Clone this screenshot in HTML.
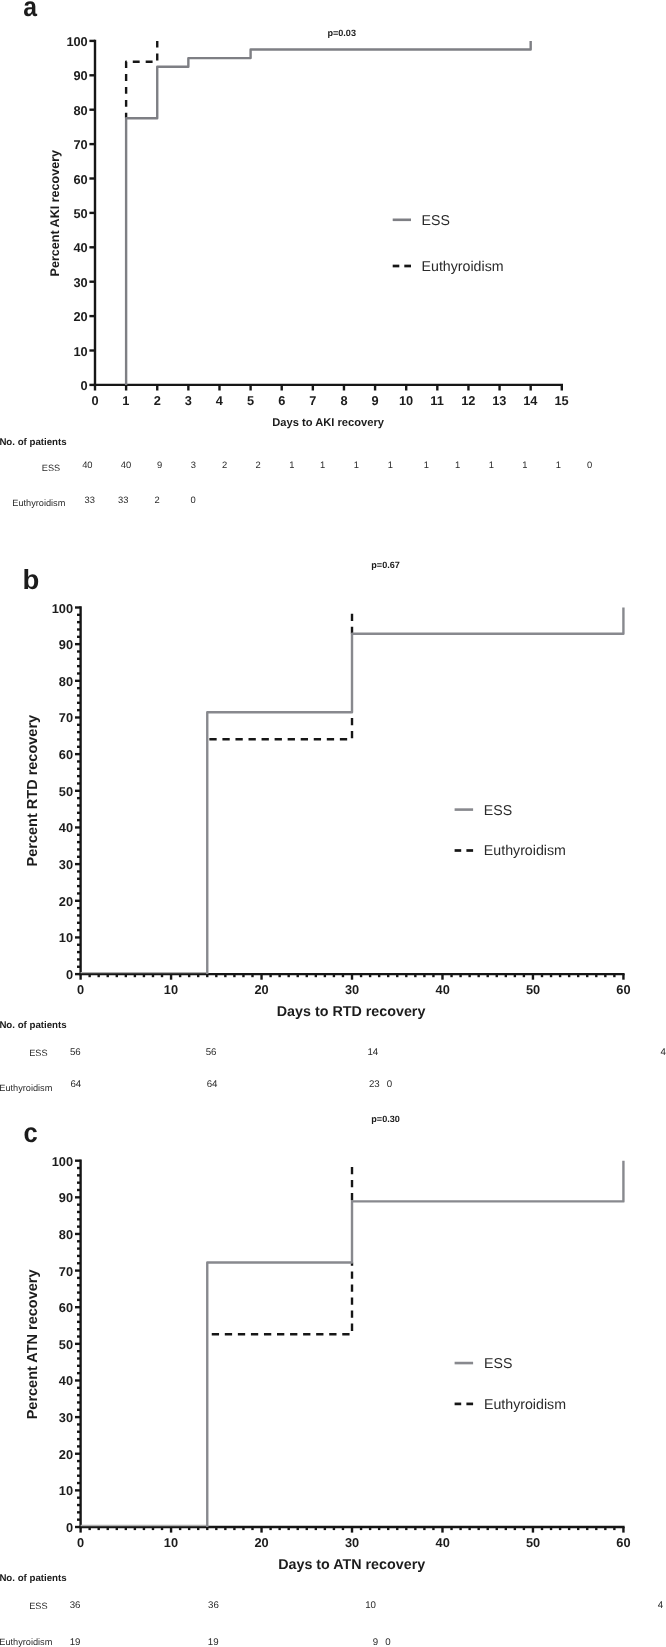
<!DOCTYPE html>
<html><head><meta charset="utf-8"><style>
html,body{margin:0;padding:0;background:#fff;}
body{width:666px;height:1647px;overflow:hidden;}
svg{display:block;font-family:"Liberation Sans",sans-serif;}
text{text-rendering:geometricPrecision;}
</style></head><body>
<svg style="will-change:transform" width="666" height="1647" viewBox="0 0 666 1647">
<rect width="666" height="1647" fill="#fff"/>
<text transform="translate(23.16,15.80) scale(0.9,1)" x="0" y="0" font-size="27.5" font-weight="bold" fill="#1c1c1c">a</text>
<text x="327.41" y="36.20" font-size="9.1" font-weight="bold" fill="#1c1c1c">p=0.03</text>
<line x1="95.00" y1="39.70" x2="95.00" y2="386.10" stroke="#161616" stroke-width="2.4"/>
<line x1="93.80" y1="384.90" x2="563.00" y2="384.90" stroke="#161616" stroke-width="2.4"/>
<line x1="89.40" y1="384.90" x2="95.00" y2="384.90" stroke="#161616" stroke-width="2.4"/>
<text x="80.61" y="389.90" font-size="12.8" font-weight="bold" fill="#1c1c1c">0</text>
<line x1="89.40" y1="350.50" x2="95.00" y2="350.50" stroke="#161616" stroke-width="2.4"/>
<text x="73.50" y="355.50" font-size="12.8" font-weight="bold" fill="#1c1c1c">10</text>
<line x1="89.40" y1="316.10" x2="95.00" y2="316.10" stroke="#161616" stroke-width="2.4"/>
<text x="73.50" y="321.10" font-size="12.8" font-weight="bold" fill="#1c1c1c">20</text>
<line x1="89.40" y1="281.70" x2="95.00" y2="281.70" stroke="#161616" stroke-width="2.4"/>
<text x="73.50" y="286.70" font-size="12.8" font-weight="bold" fill="#1c1c1c">30</text>
<line x1="89.40" y1="247.30" x2="95.00" y2="247.30" stroke="#161616" stroke-width="2.4"/>
<text x="73.50" y="252.30" font-size="12.8" font-weight="bold" fill="#1c1c1c">40</text>
<line x1="89.40" y1="212.90" x2="95.00" y2="212.90" stroke="#161616" stroke-width="2.4"/>
<text x="73.50" y="217.90" font-size="12.8" font-weight="bold" fill="#1c1c1c">50</text>
<line x1="89.40" y1="178.50" x2="95.00" y2="178.50" stroke="#161616" stroke-width="2.4"/>
<text x="73.50" y="183.50" font-size="12.8" font-weight="bold" fill="#1c1c1c">60</text>
<line x1="89.40" y1="144.10" x2="95.00" y2="144.10" stroke="#161616" stroke-width="2.4"/>
<text x="73.50" y="149.10" font-size="12.8" font-weight="bold" fill="#1c1c1c">70</text>
<line x1="89.40" y1="109.70" x2="95.00" y2="109.70" stroke="#161616" stroke-width="2.4"/>
<text x="73.50" y="114.70" font-size="12.8" font-weight="bold" fill="#1c1c1c">80</text>
<line x1="89.40" y1="75.30" x2="95.00" y2="75.30" stroke="#161616" stroke-width="2.4"/>
<text x="73.50" y="80.30" font-size="12.8" font-weight="bold" fill="#1c1c1c">90</text>
<line x1="89.40" y1="40.90" x2="95.00" y2="40.90" stroke="#161616" stroke-width="2.4"/>
<text x="66.40" y="45.90" font-size="12.8" font-weight="bold" fill="#1c1c1c">100</text>
<line x1="95.00" y1="384.90" x2="95.00" y2="390.50" stroke="#161616" stroke-width="2.4"/>
<text x="91.45" y="405.00" font-size="12.8" font-weight="bold" fill="#1c1c1c">0</text>
<line x1="126.12" y1="384.90" x2="126.12" y2="390.50" stroke="#161616" stroke-width="2.4"/>
<text x="122.31" y="405.00" font-size="12.8" font-weight="bold" fill="#1c1c1c">1</text>
<line x1="157.24" y1="384.90" x2="157.24" y2="390.50" stroke="#161616" stroke-width="2.4"/>
<text x="153.72" y="405.00" font-size="12.8" font-weight="bold" fill="#1c1c1c">2</text>
<line x1="188.36" y1="384.90" x2="188.36" y2="390.50" stroke="#161616" stroke-width="2.4"/>
<text x="184.87" y="405.00" font-size="12.8" font-weight="bold" fill="#1c1c1c">3</text>
<line x1="219.48" y1="384.90" x2="219.48" y2="390.50" stroke="#161616" stroke-width="2.4"/>
<text x="215.86" y="405.00" font-size="12.8" font-weight="bold" fill="#1c1c1c">4</text>
<line x1="250.60" y1="384.90" x2="250.60" y2="390.50" stroke="#161616" stroke-width="2.4"/>
<text x="247.02" y="405.00" font-size="12.8" font-weight="bold" fill="#1c1c1c">5</text>
<line x1="281.72" y1="384.90" x2="281.72" y2="390.50" stroke="#161616" stroke-width="2.4"/>
<text x="278.17" y="405.00" font-size="12.8" font-weight="bold" fill="#1c1c1c">6</text>
<line x1="312.84" y1="384.90" x2="312.84" y2="390.50" stroke="#161616" stroke-width="2.4"/>
<text x="309.29" y="405.00" font-size="12.8" font-weight="bold" fill="#1c1c1c">7</text>
<line x1="343.96" y1="384.90" x2="343.96" y2="390.50" stroke="#161616" stroke-width="2.4"/>
<text x="340.41" y="405.00" font-size="12.8" font-weight="bold" fill="#1c1c1c">8</text>
<line x1="375.08" y1="384.90" x2="375.08" y2="390.50" stroke="#161616" stroke-width="2.4"/>
<text x="371.53" y="405.00" font-size="12.8" font-weight="bold" fill="#1c1c1c">9</text>
<line x1="406.20" y1="384.90" x2="406.20" y2="390.50" stroke="#161616" stroke-width="2.4"/>
<text x="398.94" y="405.00" font-size="12.8" font-weight="bold" fill="#1c1c1c">10</text>
<line x1="437.32" y1="384.90" x2="437.32" y2="390.50" stroke="#161616" stroke-width="2.4"/>
<text x="430.31" y="405.00" font-size="12.8" font-weight="bold" fill="#1c1c1c">11</text>
<line x1="468.44" y1="384.90" x2="468.44" y2="390.50" stroke="#161616" stroke-width="2.4"/>
<text x="461.18" y="405.00" font-size="12.8" font-weight="bold" fill="#1c1c1c">12</text>
<line x1="499.56" y1="384.90" x2="499.56" y2="390.50" stroke="#161616" stroke-width="2.4"/>
<text x="492.26" y="405.00" font-size="12.8" font-weight="bold" fill="#1c1c1c">13</text>
<line x1="530.68" y1="384.90" x2="530.68" y2="390.50" stroke="#161616" stroke-width="2.4"/>
<text x="523.19" y="405.00" font-size="12.8" font-weight="bold" fill="#1c1c1c">14</text>
<line x1="561.80" y1="384.90" x2="561.80" y2="390.50" stroke="#161616" stroke-width="2.4"/>
<text x="554.44" y="405.00" font-size="12.8" font-weight="bold" fill="#1c1c1c">15</text>
<path d="M126.12,118.30 L126.12,61.75 L157.24,61.75 L157.24,40.90" fill="none" stroke="#161616" stroke-width="2.4" stroke-linejoin="round" stroke-linecap="butt" stroke-dasharray="6.9 6.02" stroke-dashoffset="1.4"/>
<path d="M126.12,384.90 L126.12,118.30 L157.24,118.30 L157.24,66.70 L188.36,66.70 L188.36,58.10 L250.60,58.10 L250.60,49.50 L530.68,49.50 L530.68,40.90" fill="none" stroke="#7e7f84" stroke-width="2.4" stroke-linejoin="round" stroke-linecap="butt"/>
<text x="272.30" y="426.30" font-size="11.15" font-weight="bold" fill="#1c1c1c">Days to AKI recovery</text>
<text transform="translate(58.70,212.80) rotate(-90)" x="-63.63" y="0" font-size="12.55" font-weight="bold" fill="#1c1c1c">Percent AKI recovery</text>
<line x1="392.70" y1="219.80" x2="411.00" y2="219.80" stroke="#7e7f84" stroke-width="2.6"/>
<text x="421.56" y="224.70" font-size="14.2" font-weight="normal" fill="#2a2a2a">ESS</text>
<line x1="392.70" y1="266.00" x2="399.30" y2="266.00" stroke="#161616" stroke-width="2.7"/>
<line x1="404.30" y1="266.00" x2="411.00" y2="266.00" stroke="#161616" stroke-width="2.7"/>
<text x="421.56" y="270.50" font-size="14.2" font-weight="normal" fill="#2a2a2a">Euthyroidism</text>
<text x="-0.63" y="444.80" font-size="9.7" font-weight="bold" fill="#1c1c1c">No. of patients</text>
<text x="41.81" y="470.50" font-size="9.2" font-weight="normal" fill="#2a2a2a">ESS</text>
<text x="12.26" y="505.70" font-size="9.2" font-weight="normal" fill="#2a2a2a">Euthyroidism</text>
<text x="82.15" y="468.20" font-size="9.4" font-weight="normal" fill="#2a2a2a">40</text>
<text x="120.85" y="468.20" font-size="9.4" font-weight="normal" fill="#2a2a2a">40</text>
<text x="157.09" y="468.20" font-size="9.4" font-weight="normal" fill="#2a2a2a">9</text>
<text x="190.72" y="468.20" font-size="9.4" font-weight="normal" fill="#2a2a2a">3</text>
<text x="221.89" y="468.20" font-size="9.4" font-weight="normal" fill="#2a2a2a">2</text>
<text x="255.39" y="468.20" font-size="9.4" font-weight="normal" fill="#2a2a2a">2</text>
<text x="289.27" y="468.20" font-size="9.4" font-weight="normal" fill="#2a2a2a">1</text>
<text x="320.07" y="468.20" font-size="9.4" font-weight="normal" fill="#2a2a2a">1</text>
<text x="353.77" y="468.20" font-size="9.4" font-weight="normal" fill="#2a2a2a">1</text>
<text x="387.67" y="468.20" font-size="9.4" font-weight="normal" fill="#2a2a2a">1</text>
<text x="423.87" y="468.20" font-size="9.4" font-weight="normal" fill="#2a2a2a">1</text>
<text x="455.07" y="468.20" font-size="9.4" font-weight="normal" fill="#2a2a2a">1</text>
<text x="488.67" y="468.20" font-size="9.4" font-weight="normal" fill="#2a2a2a">1</text>
<text x="522.27" y="468.20" font-size="9.4" font-weight="normal" fill="#2a2a2a">1</text>
<text x="555.87" y="468.20" font-size="9.4" font-weight="normal" fill="#2a2a2a">1</text>
<text x="587.09" y="468.20" font-size="9.4" font-weight="normal" fill="#2a2a2a">0</text>
<text x="84.51" y="503.00" font-size="9.4" font-weight="normal" fill="#2a2a2a">33</text>
<text x="118.01" y="503.00" font-size="9.4" font-weight="normal" fill="#2a2a2a">33</text>
<text x="154.59" y="503.00" font-size="9.4" font-weight="normal" fill="#2a2a2a">2</text>
<text x="190.59" y="503.00" font-size="9.4" font-weight="normal" fill="#2a2a2a">0</text>
<text transform="translate(22.61,588.50) scale(1.0,1)" x="0" y="0" font-size="27.5" font-weight="bold" fill="#1c1c1c">b</text>
<text x="371.31" y="568.30" font-size="9.1" font-weight="bold" fill="#1c1c1c">p=0.67</text>
<line x1="80.60" y1="606.30" x2="80.60" y2="975.30" stroke="#161616" stroke-width="2.4"/>
<line x1="79.40" y1="974.10" x2="624.62" y2="974.10" stroke="#161616" stroke-width="2.4"/>
<line x1="75.00" y1="974.10" x2="80.60" y2="974.10" stroke="#161616" stroke-width="2.4"/>
<text x="65.91" y="979.10" font-size="12.8" font-weight="bold" fill="#1c1c1c">0</text>
<line x1="75.00" y1="937.44" x2="80.60" y2="937.44" stroke="#161616" stroke-width="2.4"/>
<text x="58.80" y="942.44" font-size="12.8" font-weight="bold" fill="#1c1c1c">10</text>
<line x1="75.00" y1="900.78" x2="80.60" y2="900.78" stroke="#161616" stroke-width="2.4"/>
<text x="58.80" y="905.78" font-size="12.8" font-weight="bold" fill="#1c1c1c">20</text>
<line x1="75.00" y1="864.12" x2="80.60" y2="864.12" stroke="#161616" stroke-width="2.4"/>
<text x="58.80" y="869.12" font-size="12.8" font-weight="bold" fill="#1c1c1c">30</text>
<line x1="75.00" y1="827.46" x2="80.60" y2="827.46" stroke="#161616" stroke-width="2.4"/>
<text x="58.80" y="832.46" font-size="12.8" font-weight="bold" fill="#1c1c1c">40</text>
<line x1="75.00" y1="790.80" x2="80.60" y2="790.80" stroke="#161616" stroke-width="2.4"/>
<text x="58.80" y="795.80" font-size="12.8" font-weight="bold" fill="#1c1c1c">50</text>
<line x1="75.00" y1="754.14" x2="80.60" y2="754.14" stroke="#161616" stroke-width="2.4"/>
<text x="58.80" y="759.14" font-size="12.8" font-weight="bold" fill="#1c1c1c">60</text>
<line x1="75.00" y1="717.48" x2="80.60" y2="717.48" stroke="#161616" stroke-width="2.4"/>
<text x="58.80" y="722.48" font-size="12.8" font-weight="bold" fill="#1c1c1c">70</text>
<line x1="75.00" y1="680.82" x2="80.60" y2="680.82" stroke="#161616" stroke-width="2.4"/>
<text x="58.80" y="685.82" font-size="12.8" font-weight="bold" fill="#1c1c1c">80</text>
<line x1="75.00" y1="644.16" x2="80.60" y2="644.16" stroke="#161616" stroke-width="2.4"/>
<text x="58.80" y="649.16" font-size="12.8" font-weight="bold" fill="#1c1c1c">90</text>
<line x1="75.00" y1="607.50" x2="80.60" y2="607.50" stroke="#161616" stroke-width="2.4"/>
<text x="51.70" y="612.50" font-size="12.8" font-weight="bold" fill="#1c1c1c">100</text>
<line x1="77.00" y1="966.77" x2="80.60" y2="966.77" stroke="#161616" stroke-width="2.4"/>
<line x1="77.00" y1="959.44" x2="80.60" y2="959.44" stroke="#161616" stroke-width="2.4"/>
<line x1="77.00" y1="952.10" x2="80.60" y2="952.10" stroke="#161616" stroke-width="2.4"/>
<line x1="77.00" y1="944.77" x2="80.60" y2="944.77" stroke="#161616" stroke-width="2.4"/>
<line x1="77.00" y1="930.11" x2="80.60" y2="930.11" stroke="#161616" stroke-width="2.4"/>
<line x1="77.00" y1="922.78" x2="80.60" y2="922.78" stroke="#161616" stroke-width="2.4"/>
<line x1="77.00" y1="915.44" x2="80.60" y2="915.44" stroke="#161616" stroke-width="2.4"/>
<line x1="77.00" y1="908.11" x2="80.60" y2="908.11" stroke="#161616" stroke-width="2.4"/>
<line x1="77.00" y1="893.45" x2="80.60" y2="893.45" stroke="#161616" stroke-width="2.4"/>
<line x1="77.00" y1="886.12" x2="80.60" y2="886.12" stroke="#161616" stroke-width="2.4"/>
<line x1="77.00" y1="878.78" x2="80.60" y2="878.78" stroke="#161616" stroke-width="2.4"/>
<line x1="77.00" y1="871.45" x2="80.60" y2="871.45" stroke="#161616" stroke-width="2.4"/>
<line x1="77.00" y1="856.79" x2="80.60" y2="856.79" stroke="#161616" stroke-width="2.4"/>
<line x1="77.00" y1="849.46" x2="80.60" y2="849.46" stroke="#161616" stroke-width="2.4"/>
<line x1="77.00" y1="842.12" x2="80.60" y2="842.12" stroke="#161616" stroke-width="2.4"/>
<line x1="77.00" y1="834.79" x2="80.60" y2="834.79" stroke="#161616" stroke-width="2.4"/>
<line x1="77.00" y1="820.13" x2="80.60" y2="820.13" stroke="#161616" stroke-width="2.4"/>
<line x1="77.00" y1="812.80" x2="80.60" y2="812.80" stroke="#161616" stroke-width="2.4"/>
<line x1="77.00" y1="805.46" x2="80.60" y2="805.46" stroke="#161616" stroke-width="2.4"/>
<line x1="77.00" y1="798.13" x2="80.60" y2="798.13" stroke="#161616" stroke-width="2.4"/>
<line x1="77.00" y1="783.47" x2="80.60" y2="783.47" stroke="#161616" stroke-width="2.4"/>
<line x1="77.00" y1="776.14" x2="80.60" y2="776.14" stroke="#161616" stroke-width="2.4"/>
<line x1="77.00" y1="768.80" x2="80.60" y2="768.80" stroke="#161616" stroke-width="2.4"/>
<line x1="77.00" y1="761.47" x2="80.60" y2="761.47" stroke="#161616" stroke-width="2.4"/>
<line x1="77.00" y1="746.81" x2="80.60" y2="746.81" stroke="#161616" stroke-width="2.4"/>
<line x1="77.00" y1="739.48" x2="80.60" y2="739.48" stroke="#161616" stroke-width="2.4"/>
<line x1="77.00" y1="732.14" x2="80.60" y2="732.14" stroke="#161616" stroke-width="2.4"/>
<line x1="77.00" y1="724.81" x2="80.60" y2="724.81" stroke="#161616" stroke-width="2.4"/>
<line x1="77.00" y1="710.15" x2="80.60" y2="710.15" stroke="#161616" stroke-width="2.4"/>
<line x1="77.00" y1="702.82" x2="80.60" y2="702.82" stroke="#161616" stroke-width="2.4"/>
<line x1="77.00" y1="695.48" x2="80.60" y2="695.48" stroke="#161616" stroke-width="2.4"/>
<line x1="77.00" y1="688.15" x2="80.60" y2="688.15" stroke="#161616" stroke-width="2.4"/>
<line x1="77.00" y1="673.49" x2="80.60" y2="673.49" stroke="#161616" stroke-width="2.4"/>
<line x1="77.00" y1="666.16" x2="80.60" y2="666.16" stroke="#161616" stroke-width="2.4"/>
<line x1="77.00" y1="658.82" x2="80.60" y2="658.82" stroke="#161616" stroke-width="2.4"/>
<line x1="77.00" y1="651.49" x2="80.60" y2="651.49" stroke="#161616" stroke-width="2.4"/>
<line x1="77.00" y1="636.83" x2="80.60" y2="636.83" stroke="#161616" stroke-width="2.4"/>
<line x1="77.00" y1="629.50" x2="80.60" y2="629.50" stroke="#161616" stroke-width="2.4"/>
<line x1="77.00" y1="622.16" x2="80.60" y2="622.16" stroke="#161616" stroke-width="2.4"/>
<line x1="77.00" y1="614.83" x2="80.60" y2="614.83" stroke="#161616" stroke-width="2.4"/>
<line x1="80.60" y1="974.10" x2="80.60" y2="979.70" stroke="#161616" stroke-width="2.4"/>
<text x="77.05" y="994.30" font-size="12.8" font-weight="bold" fill="#1c1c1c">0</text>
<line x1="171.07" y1="974.10" x2="171.07" y2="979.70" stroke="#161616" stroke-width="2.4"/>
<text x="163.81" y="994.30" font-size="12.8" font-weight="bold" fill="#1c1c1c">10</text>
<line x1="261.54" y1="974.10" x2="261.54" y2="979.70" stroke="#161616" stroke-width="2.4"/>
<text x="254.47" y="994.30" font-size="12.8" font-weight="bold" fill="#1c1c1c">20</text>
<line x1="352.01" y1="974.10" x2="352.01" y2="979.70" stroke="#161616" stroke-width="2.4"/>
<text x="345.00" y="994.30" font-size="12.8" font-weight="bold" fill="#1c1c1c">30</text>
<line x1="442.48" y1="974.10" x2="442.48" y2="979.70" stroke="#161616" stroke-width="2.4"/>
<text x="435.54" y="994.30" font-size="12.8" font-weight="bold" fill="#1c1c1c">40</text>
<line x1="532.95" y1="974.10" x2="532.95" y2="979.70" stroke="#161616" stroke-width="2.4"/>
<text x="525.91" y="994.30" font-size="12.8" font-weight="bold" fill="#1c1c1c">50</text>
<line x1="623.42" y1="974.10" x2="623.42" y2="979.70" stroke="#161616" stroke-width="2.4"/>
<text x="616.35" y="994.30" font-size="12.8" font-weight="bold" fill="#1c1c1c">60</text>
<line x1="89.65" y1="974.10" x2="89.65" y2="977.20" stroke="#161616" stroke-width="2.4"/>
<line x1="98.69" y1="974.10" x2="98.69" y2="977.20" stroke="#161616" stroke-width="2.4"/>
<line x1="107.74" y1="974.10" x2="107.74" y2="977.20" stroke="#161616" stroke-width="2.4"/>
<line x1="116.79" y1="974.10" x2="116.79" y2="977.20" stroke="#161616" stroke-width="2.4"/>
<line x1="125.83" y1="974.10" x2="125.83" y2="977.20" stroke="#161616" stroke-width="2.4"/>
<line x1="134.88" y1="974.10" x2="134.88" y2="977.20" stroke="#161616" stroke-width="2.4"/>
<line x1="143.93" y1="974.10" x2="143.93" y2="977.20" stroke="#161616" stroke-width="2.4"/>
<line x1="152.98" y1="974.10" x2="152.98" y2="977.20" stroke="#161616" stroke-width="2.4"/>
<line x1="162.02" y1="974.10" x2="162.02" y2="977.20" stroke="#161616" stroke-width="2.4"/>
<line x1="180.12" y1="974.10" x2="180.12" y2="977.20" stroke="#161616" stroke-width="2.4"/>
<line x1="189.16" y1="974.10" x2="189.16" y2="977.20" stroke="#161616" stroke-width="2.4"/>
<line x1="198.21" y1="974.10" x2="198.21" y2="977.20" stroke="#161616" stroke-width="2.4"/>
<line x1="207.26" y1="974.10" x2="207.26" y2="977.20" stroke="#161616" stroke-width="2.4"/>
<line x1="216.31" y1="974.10" x2="216.31" y2="977.20" stroke="#161616" stroke-width="2.4"/>
<line x1="225.35" y1="974.10" x2="225.35" y2="977.20" stroke="#161616" stroke-width="2.4"/>
<line x1="234.40" y1="974.10" x2="234.40" y2="977.20" stroke="#161616" stroke-width="2.4"/>
<line x1="243.45" y1="974.10" x2="243.45" y2="977.20" stroke="#161616" stroke-width="2.4"/>
<line x1="252.49" y1="974.10" x2="252.49" y2="977.20" stroke="#161616" stroke-width="2.4"/>
<line x1="270.59" y1="974.10" x2="270.59" y2="977.20" stroke="#161616" stroke-width="2.4"/>
<line x1="279.63" y1="974.10" x2="279.63" y2="977.20" stroke="#161616" stroke-width="2.4"/>
<line x1="288.68" y1="974.10" x2="288.68" y2="977.20" stroke="#161616" stroke-width="2.4"/>
<line x1="297.73" y1="974.10" x2="297.73" y2="977.20" stroke="#161616" stroke-width="2.4"/>
<line x1="306.77" y1="974.10" x2="306.77" y2="977.20" stroke="#161616" stroke-width="2.4"/>
<line x1="315.82" y1="974.10" x2="315.82" y2="977.20" stroke="#161616" stroke-width="2.4"/>
<line x1="324.87" y1="974.10" x2="324.87" y2="977.20" stroke="#161616" stroke-width="2.4"/>
<line x1="333.92" y1="974.10" x2="333.92" y2="977.20" stroke="#161616" stroke-width="2.4"/>
<line x1="342.96" y1="974.10" x2="342.96" y2="977.20" stroke="#161616" stroke-width="2.4"/>
<line x1="361.06" y1="974.10" x2="361.06" y2="977.20" stroke="#161616" stroke-width="2.4"/>
<line x1="370.10" y1="974.10" x2="370.10" y2="977.20" stroke="#161616" stroke-width="2.4"/>
<line x1="379.15" y1="974.10" x2="379.15" y2="977.20" stroke="#161616" stroke-width="2.4"/>
<line x1="388.20" y1="974.10" x2="388.20" y2="977.20" stroke="#161616" stroke-width="2.4"/>
<line x1="397.25" y1="974.10" x2="397.25" y2="977.20" stroke="#161616" stroke-width="2.4"/>
<line x1="406.29" y1="974.10" x2="406.29" y2="977.20" stroke="#161616" stroke-width="2.4"/>
<line x1="415.34" y1="974.10" x2="415.34" y2="977.20" stroke="#161616" stroke-width="2.4"/>
<line x1="424.39" y1="974.10" x2="424.39" y2="977.20" stroke="#161616" stroke-width="2.4"/>
<line x1="433.43" y1="974.10" x2="433.43" y2="977.20" stroke="#161616" stroke-width="2.4"/>
<line x1="451.53" y1="974.10" x2="451.53" y2="977.20" stroke="#161616" stroke-width="2.4"/>
<line x1="460.57" y1="974.10" x2="460.57" y2="977.20" stroke="#161616" stroke-width="2.4"/>
<line x1="469.62" y1="974.10" x2="469.62" y2="977.20" stroke="#161616" stroke-width="2.4"/>
<line x1="478.67" y1="974.10" x2="478.67" y2="977.20" stroke="#161616" stroke-width="2.4"/>
<line x1="487.72" y1="974.10" x2="487.72" y2="977.20" stroke="#161616" stroke-width="2.4"/>
<line x1="496.76" y1="974.10" x2="496.76" y2="977.20" stroke="#161616" stroke-width="2.4"/>
<line x1="505.81" y1="974.10" x2="505.81" y2="977.20" stroke="#161616" stroke-width="2.4"/>
<line x1="514.86" y1="974.10" x2="514.86" y2="977.20" stroke="#161616" stroke-width="2.4"/>
<line x1="523.90" y1="974.10" x2="523.90" y2="977.20" stroke="#161616" stroke-width="2.4"/>
<line x1="542.00" y1="974.10" x2="542.00" y2="977.20" stroke="#161616" stroke-width="2.4"/>
<line x1="551.04" y1="974.10" x2="551.04" y2="977.20" stroke="#161616" stroke-width="2.4"/>
<line x1="560.09" y1="974.10" x2="560.09" y2="977.20" stroke="#161616" stroke-width="2.4"/>
<line x1="569.14" y1="974.10" x2="569.14" y2="977.20" stroke="#161616" stroke-width="2.4"/>
<line x1="578.19" y1="974.10" x2="578.19" y2="977.20" stroke="#161616" stroke-width="2.4"/>
<line x1="587.23" y1="974.10" x2="587.23" y2="977.20" stroke="#161616" stroke-width="2.4"/>
<line x1="596.28" y1="974.10" x2="596.28" y2="977.20" stroke="#161616" stroke-width="2.4"/>
<line x1="605.33" y1="974.10" x2="605.33" y2="977.20" stroke="#161616" stroke-width="2.4"/>
<line x1="614.37" y1="974.10" x2="614.37" y2="977.20" stroke="#161616" stroke-width="2.4"/>
<path d="M207.26,739.26 L352.01,739.26 L352.01,712.24" fill="none" stroke="#161616" stroke-width="2.4" stroke-linejoin="round" stroke-linecap="butt" stroke-dasharray="7.3 5.75" stroke-dashoffset="10.95"/>
<path d="M352.01,633.68 L352.01,613.73" fill="none" stroke="#161616" stroke-width="2.4" stroke-linejoin="round" stroke-linecap="butt" stroke-dasharray="7.3 5.75" stroke-dashoffset="261.28"/>
<line x1="80.60" y1="972.60" x2="206.06" y2="972.60" stroke="#b0b0b0" stroke-width="1.3"/>
<path d="M207.26,974.10 L207.26,712.24 L352.01,712.24 L352.01,633.68 L623.42,633.68 L623.42,607.50" fill="none" stroke="#88898e" stroke-width="2.4" stroke-linejoin="round" stroke-linecap="butt"/>
<text x="276.78" y="1016.00" font-size="14.3" font-weight="bold" fill="#1c1c1c">Days to RTD recovery</text>
<text transform="translate(37.10,790.20) rotate(-90)" x="-76.20" y="0" font-size="14.5" font-weight="bold" fill="#1c1c1c">Percent RTD recovery</text>
<line x1="454.60" y1="809.60" x2="473.10" y2="809.60" stroke="#88898e" stroke-width="2.6"/>
<text x="483.86" y="814.60" font-size="14.2" font-weight="normal" fill="#2a2a2a">ESS</text>
<line x1="454.60" y1="850.50" x2="461.20" y2="850.50" stroke="#161616" stroke-width="2.7"/>
<line x1="466.40" y1="850.50" x2="473.10" y2="850.50" stroke="#161616" stroke-width="2.7"/>
<text x="483.86" y="855.20" font-size="14.2" font-weight="normal" fill="#2a2a2a">Euthyroidism</text>
<text x="-0.63" y="1028.00" font-size="9.7" font-weight="bold" fill="#1c1c1c">No. of patients</text>
<text x="29.21" y="1056.00" font-size="9.2" font-weight="normal" fill="#2a2a2a">ESS</text>
<text x="-0.74" y="1091.40" font-size="9.2" font-weight="normal" fill="#2a2a2a">Euthyroidism</text>
<text x="69.89" y="1055.00" font-size="9.7" font-weight="normal" fill="#2a2a2a">56</text>
<text x="205.64" y="1055.00" font-size="9.7" font-weight="normal" fill="#2a2a2a">56</text>
<text x="367.40" y="1055.00" font-size="9.7" font-weight="normal" fill="#2a2a2a">14</text>
<text x="660.53" y="1055.00" font-size="9.7" font-weight="normal" fill="#2a2a2a">4</text>
<text x="70.47" y="1087.10" font-size="9.7" font-weight="normal" fill="#2a2a2a">64</text>
<text x="206.67" y="1087.10" font-size="9.7" font-weight="normal" fill="#2a2a2a">64</text>
<text x="368.94" y="1087.10" font-size="9.7" font-weight="normal" fill="#2a2a2a">23</text>
<text x="386.81" y="1087.10" font-size="9.7" font-weight="normal" fill="#2a2a2a">0</text>
<text transform="translate(23.58,1142.10) scale(0.93,1)" x="0" y="0" font-size="27.5" font-weight="bold" fill="#1c1c1c">c</text>
<text x="371.31" y="1121.80" font-size="9.1" font-weight="bold" fill="#1c1c1c">p=0.30</text>
<line x1="80.60" y1="1159.50" x2="80.60" y2="1528.20" stroke="#161616" stroke-width="2.4"/>
<line x1="79.40" y1="1527.00" x2="624.62" y2="1527.00" stroke="#161616" stroke-width="2.4"/>
<line x1="75.00" y1="1527.00" x2="80.60" y2="1527.00" stroke="#161616" stroke-width="2.4"/>
<text x="65.91" y="1532.00" font-size="12.8" font-weight="bold" fill="#1c1c1c">0</text>
<line x1="75.00" y1="1490.37" x2="80.60" y2="1490.37" stroke="#161616" stroke-width="2.4"/>
<text x="58.80" y="1495.37" font-size="12.8" font-weight="bold" fill="#1c1c1c">10</text>
<line x1="75.00" y1="1453.74" x2="80.60" y2="1453.74" stroke="#161616" stroke-width="2.4"/>
<text x="58.80" y="1458.74" font-size="12.8" font-weight="bold" fill="#1c1c1c">20</text>
<line x1="75.00" y1="1417.11" x2="80.60" y2="1417.11" stroke="#161616" stroke-width="2.4"/>
<text x="58.80" y="1422.11" font-size="12.8" font-weight="bold" fill="#1c1c1c">30</text>
<line x1="75.00" y1="1380.48" x2="80.60" y2="1380.48" stroke="#161616" stroke-width="2.4"/>
<text x="58.80" y="1385.48" font-size="12.8" font-weight="bold" fill="#1c1c1c">40</text>
<line x1="75.00" y1="1343.85" x2="80.60" y2="1343.85" stroke="#161616" stroke-width="2.4"/>
<text x="58.80" y="1348.85" font-size="12.8" font-weight="bold" fill="#1c1c1c">50</text>
<line x1="75.00" y1="1307.22" x2="80.60" y2="1307.22" stroke="#161616" stroke-width="2.4"/>
<text x="58.80" y="1312.22" font-size="12.8" font-weight="bold" fill="#1c1c1c">60</text>
<line x1="75.00" y1="1270.59" x2="80.60" y2="1270.59" stroke="#161616" stroke-width="2.4"/>
<text x="58.80" y="1275.59" font-size="12.8" font-weight="bold" fill="#1c1c1c">70</text>
<line x1="75.00" y1="1233.96" x2="80.60" y2="1233.96" stroke="#161616" stroke-width="2.4"/>
<text x="58.80" y="1238.96" font-size="12.8" font-weight="bold" fill="#1c1c1c">80</text>
<line x1="75.00" y1="1197.33" x2="80.60" y2="1197.33" stroke="#161616" stroke-width="2.4"/>
<text x="58.80" y="1202.33" font-size="12.8" font-weight="bold" fill="#1c1c1c">90</text>
<line x1="75.00" y1="1160.70" x2="80.60" y2="1160.70" stroke="#161616" stroke-width="2.4"/>
<text x="51.70" y="1165.70" font-size="12.8" font-weight="bold" fill="#1c1c1c">100</text>
<line x1="77.00" y1="1519.67" x2="80.60" y2="1519.67" stroke="#161616" stroke-width="2.4"/>
<line x1="77.00" y1="1512.35" x2="80.60" y2="1512.35" stroke="#161616" stroke-width="2.4"/>
<line x1="77.00" y1="1505.02" x2="80.60" y2="1505.02" stroke="#161616" stroke-width="2.4"/>
<line x1="77.00" y1="1497.70" x2="80.60" y2="1497.70" stroke="#161616" stroke-width="2.4"/>
<line x1="77.00" y1="1483.04" x2="80.60" y2="1483.04" stroke="#161616" stroke-width="2.4"/>
<line x1="77.00" y1="1475.72" x2="80.60" y2="1475.72" stroke="#161616" stroke-width="2.4"/>
<line x1="77.00" y1="1468.39" x2="80.60" y2="1468.39" stroke="#161616" stroke-width="2.4"/>
<line x1="77.00" y1="1461.07" x2="80.60" y2="1461.07" stroke="#161616" stroke-width="2.4"/>
<line x1="77.00" y1="1446.41" x2="80.60" y2="1446.41" stroke="#161616" stroke-width="2.4"/>
<line x1="77.00" y1="1439.09" x2="80.60" y2="1439.09" stroke="#161616" stroke-width="2.4"/>
<line x1="77.00" y1="1431.76" x2="80.60" y2="1431.76" stroke="#161616" stroke-width="2.4"/>
<line x1="77.00" y1="1424.44" x2="80.60" y2="1424.44" stroke="#161616" stroke-width="2.4"/>
<line x1="77.00" y1="1409.78" x2="80.60" y2="1409.78" stroke="#161616" stroke-width="2.4"/>
<line x1="77.00" y1="1402.46" x2="80.60" y2="1402.46" stroke="#161616" stroke-width="2.4"/>
<line x1="77.00" y1="1395.13" x2="80.60" y2="1395.13" stroke="#161616" stroke-width="2.4"/>
<line x1="77.00" y1="1387.81" x2="80.60" y2="1387.81" stroke="#161616" stroke-width="2.4"/>
<line x1="77.00" y1="1373.15" x2="80.60" y2="1373.15" stroke="#161616" stroke-width="2.4"/>
<line x1="77.00" y1="1365.83" x2="80.60" y2="1365.83" stroke="#161616" stroke-width="2.4"/>
<line x1="77.00" y1="1358.50" x2="80.60" y2="1358.50" stroke="#161616" stroke-width="2.4"/>
<line x1="77.00" y1="1351.18" x2="80.60" y2="1351.18" stroke="#161616" stroke-width="2.4"/>
<line x1="77.00" y1="1336.52" x2="80.60" y2="1336.52" stroke="#161616" stroke-width="2.4"/>
<line x1="77.00" y1="1329.20" x2="80.60" y2="1329.20" stroke="#161616" stroke-width="2.4"/>
<line x1="77.00" y1="1321.87" x2="80.60" y2="1321.87" stroke="#161616" stroke-width="2.4"/>
<line x1="77.00" y1="1314.55" x2="80.60" y2="1314.55" stroke="#161616" stroke-width="2.4"/>
<line x1="77.00" y1="1299.89" x2="80.60" y2="1299.89" stroke="#161616" stroke-width="2.4"/>
<line x1="77.00" y1="1292.57" x2="80.60" y2="1292.57" stroke="#161616" stroke-width="2.4"/>
<line x1="77.00" y1="1285.24" x2="80.60" y2="1285.24" stroke="#161616" stroke-width="2.4"/>
<line x1="77.00" y1="1277.92" x2="80.60" y2="1277.92" stroke="#161616" stroke-width="2.4"/>
<line x1="77.00" y1="1263.26" x2="80.60" y2="1263.26" stroke="#161616" stroke-width="2.4"/>
<line x1="77.00" y1="1255.94" x2="80.60" y2="1255.94" stroke="#161616" stroke-width="2.4"/>
<line x1="77.00" y1="1248.61" x2="80.60" y2="1248.61" stroke="#161616" stroke-width="2.4"/>
<line x1="77.00" y1="1241.29" x2="80.60" y2="1241.29" stroke="#161616" stroke-width="2.4"/>
<line x1="77.00" y1="1226.63" x2="80.60" y2="1226.63" stroke="#161616" stroke-width="2.4"/>
<line x1="77.00" y1="1219.31" x2="80.60" y2="1219.31" stroke="#161616" stroke-width="2.4"/>
<line x1="77.00" y1="1211.98" x2="80.60" y2="1211.98" stroke="#161616" stroke-width="2.4"/>
<line x1="77.00" y1="1204.66" x2="80.60" y2="1204.66" stroke="#161616" stroke-width="2.4"/>
<line x1="77.00" y1="1190.00" x2="80.60" y2="1190.00" stroke="#161616" stroke-width="2.4"/>
<line x1="77.00" y1="1182.68" x2="80.60" y2="1182.68" stroke="#161616" stroke-width="2.4"/>
<line x1="77.00" y1="1175.35" x2="80.60" y2="1175.35" stroke="#161616" stroke-width="2.4"/>
<line x1="77.00" y1="1168.03" x2="80.60" y2="1168.03" stroke="#161616" stroke-width="2.4"/>
<line x1="80.60" y1="1527.00" x2="80.60" y2="1532.60" stroke="#161616" stroke-width="2.4"/>
<text x="77.05" y="1547.10" font-size="12.8" font-weight="bold" fill="#1c1c1c">0</text>
<line x1="171.07" y1="1527.00" x2="171.07" y2="1532.60" stroke="#161616" stroke-width="2.4"/>
<text x="163.81" y="1547.10" font-size="12.8" font-weight="bold" fill="#1c1c1c">10</text>
<line x1="261.54" y1="1527.00" x2="261.54" y2="1532.60" stroke="#161616" stroke-width="2.4"/>
<text x="254.47" y="1547.10" font-size="12.8" font-weight="bold" fill="#1c1c1c">20</text>
<line x1="352.01" y1="1527.00" x2="352.01" y2="1532.60" stroke="#161616" stroke-width="2.4"/>
<text x="345.00" y="1547.10" font-size="12.8" font-weight="bold" fill="#1c1c1c">30</text>
<line x1="442.48" y1="1527.00" x2="442.48" y2="1532.60" stroke="#161616" stroke-width="2.4"/>
<text x="435.54" y="1547.10" font-size="12.8" font-weight="bold" fill="#1c1c1c">40</text>
<line x1="532.95" y1="1527.00" x2="532.95" y2="1532.60" stroke="#161616" stroke-width="2.4"/>
<text x="525.91" y="1547.10" font-size="12.8" font-weight="bold" fill="#1c1c1c">50</text>
<line x1="623.42" y1="1527.00" x2="623.42" y2="1532.60" stroke="#161616" stroke-width="2.4"/>
<text x="616.35" y="1547.10" font-size="12.8" font-weight="bold" fill="#1c1c1c">60</text>
<line x1="89.65" y1="1527.00" x2="89.65" y2="1530.10" stroke="#161616" stroke-width="2.4"/>
<line x1="98.69" y1="1527.00" x2="98.69" y2="1530.10" stroke="#161616" stroke-width="2.4"/>
<line x1="107.74" y1="1527.00" x2="107.74" y2="1530.10" stroke="#161616" stroke-width="2.4"/>
<line x1="116.79" y1="1527.00" x2="116.79" y2="1530.10" stroke="#161616" stroke-width="2.4"/>
<line x1="125.83" y1="1527.00" x2="125.83" y2="1530.10" stroke="#161616" stroke-width="2.4"/>
<line x1="134.88" y1="1527.00" x2="134.88" y2="1530.10" stroke="#161616" stroke-width="2.4"/>
<line x1="143.93" y1="1527.00" x2="143.93" y2="1530.10" stroke="#161616" stroke-width="2.4"/>
<line x1="152.98" y1="1527.00" x2="152.98" y2="1530.10" stroke="#161616" stroke-width="2.4"/>
<line x1="162.02" y1="1527.00" x2="162.02" y2="1530.10" stroke="#161616" stroke-width="2.4"/>
<line x1="180.12" y1="1527.00" x2="180.12" y2="1530.10" stroke="#161616" stroke-width="2.4"/>
<line x1="189.16" y1="1527.00" x2="189.16" y2="1530.10" stroke="#161616" stroke-width="2.4"/>
<line x1="198.21" y1="1527.00" x2="198.21" y2="1530.10" stroke="#161616" stroke-width="2.4"/>
<line x1="207.26" y1="1527.00" x2="207.26" y2="1530.10" stroke="#161616" stroke-width="2.4"/>
<line x1="216.31" y1="1527.00" x2="216.31" y2="1530.10" stroke="#161616" stroke-width="2.4"/>
<line x1="225.35" y1="1527.00" x2="225.35" y2="1530.10" stroke="#161616" stroke-width="2.4"/>
<line x1="234.40" y1="1527.00" x2="234.40" y2="1530.10" stroke="#161616" stroke-width="2.4"/>
<line x1="243.45" y1="1527.00" x2="243.45" y2="1530.10" stroke="#161616" stroke-width="2.4"/>
<line x1="252.49" y1="1527.00" x2="252.49" y2="1530.10" stroke="#161616" stroke-width="2.4"/>
<line x1="270.59" y1="1527.00" x2="270.59" y2="1530.10" stroke="#161616" stroke-width="2.4"/>
<line x1="279.63" y1="1527.00" x2="279.63" y2="1530.10" stroke="#161616" stroke-width="2.4"/>
<line x1="288.68" y1="1527.00" x2="288.68" y2="1530.10" stroke="#161616" stroke-width="2.4"/>
<line x1="297.73" y1="1527.00" x2="297.73" y2="1530.10" stroke="#161616" stroke-width="2.4"/>
<line x1="306.77" y1="1527.00" x2="306.77" y2="1530.10" stroke="#161616" stroke-width="2.4"/>
<line x1="315.82" y1="1527.00" x2="315.82" y2="1530.10" stroke="#161616" stroke-width="2.4"/>
<line x1="324.87" y1="1527.00" x2="324.87" y2="1530.10" stroke="#161616" stroke-width="2.4"/>
<line x1="333.92" y1="1527.00" x2="333.92" y2="1530.10" stroke="#161616" stroke-width="2.4"/>
<line x1="342.96" y1="1527.00" x2="342.96" y2="1530.10" stroke="#161616" stroke-width="2.4"/>
<line x1="361.06" y1="1527.00" x2="361.06" y2="1530.10" stroke="#161616" stroke-width="2.4"/>
<line x1="370.10" y1="1527.00" x2="370.10" y2="1530.10" stroke="#161616" stroke-width="2.4"/>
<line x1="379.15" y1="1527.00" x2="379.15" y2="1530.10" stroke="#161616" stroke-width="2.4"/>
<line x1="388.20" y1="1527.00" x2="388.20" y2="1530.10" stroke="#161616" stroke-width="2.4"/>
<line x1="397.25" y1="1527.00" x2="397.25" y2="1530.10" stroke="#161616" stroke-width="2.4"/>
<line x1="406.29" y1="1527.00" x2="406.29" y2="1530.10" stroke="#161616" stroke-width="2.4"/>
<line x1="415.34" y1="1527.00" x2="415.34" y2="1530.10" stroke="#161616" stroke-width="2.4"/>
<line x1="424.39" y1="1527.00" x2="424.39" y2="1530.10" stroke="#161616" stroke-width="2.4"/>
<line x1="433.43" y1="1527.00" x2="433.43" y2="1530.10" stroke="#161616" stroke-width="2.4"/>
<line x1="451.53" y1="1527.00" x2="451.53" y2="1530.10" stroke="#161616" stroke-width="2.4"/>
<line x1="460.57" y1="1527.00" x2="460.57" y2="1530.10" stroke="#161616" stroke-width="2.4"/>
<line x1="469.62" y1="1527.00" x2="469.62" y2="1530.10" stroke="#161616" stroke-width="2.4"/>
<line x1="478.67" y1="1527.00" x2="478.67" y2="1530.10" stroke="#161616" stroke-width="2.4"/>
<line x1="487.72" y1="1527.00" x2="487.72" y2="1530.10" stroke="#161616" stroke-width="2.4"/>
<line x1="496.76" y1="1527.00" x2="496.76" y2="1530.10" stroke="#161616" stroke-width="2.4"/>
<line x1="505.81" y1="1527.00" x2="505.81" y2="1530.10" stroke="#161616" stroke-width="2.4"/>
<line x1="514.86" y1="1527.00" x2="514.86" y2="1530.10" stroke="#161616" stroke-width="2.4"/>
<line x1="523.90" y1="1527.00" x2="523.90" y2="1530.10" stroke="#161616" stroke-width="2.4"/>
<line x1="542.00" y1="1527.00" x2="542.00" y2="1530.10" stroke="#161616" stroke-width="2.4"/>
<line x1="551.04" y1="1527.00" x2="551.04" y2="1530.10" stroke="#161616" stroke-width="2.4"/>
<line x1="560.09" y1="1527.00" x2="560.09" y2="1530.10" stroke="#161616" stroke-width="2.4"/>
<line x1="569.14" y1="1527.00" x2="569.14" y2="1530.10" stroke="#161616" stroke-width="2.4"/>
<line x1="578.19" y1="1527.00" x2="578.19" y2="1530.10" stroke="#161616" stroke-width="2.4"/>
<line x1="587.23" y1="1527.00" x2="587.23" y2="1530.10" stroke="#161616" stroke-width="2.4"/>
<line x1="596.28" y1="1527.00" x2="596.28" y2="1530.10" stroke="#161616" stroke-width="2.4"/>
<line x1="605.33" y1="1527.00" x2="605.33" y2="1530.10" stroke="#161616" stroke-width="2.4"/>
<line x1="614.37" y1="1527.00" x2="614.37" y2="1530.10" stroke="#161616" stroke-width="2.4"/>
<path d="M207.26,1334.22 L352.01,1334.22 L352.01,1262.46" fill="none" stroke="#161616" stroke-width="2.4" stroke-linejoin="round" stroke-linecap="butt" stroke-dasharray="7.3 5.75" stroke-dashoffset="8.55"/>
<path d="M352.01,1201.40 L352.01,1166.19" fill="none" stroke="#161616" stroke-width="2.4" stroke-linejoin="round" stroke-linecap="butt" stroke-dasharray="7.3 5.75" stroke-dashoffset="286.12"/>
<line x1="80.60" y1="1525.50" x2="206.06" y2="1525.50" stroke="#b0b0b0" stroke-width="1.3"/>
<path d="M207.26,1527.00 L207.26,1262.46 L352.01,1262.46 L352.01,1201.40 L623.42,1201.40 L623.42,1160.70" fill="none" stroke="#88898e" stroke-width="2.4" stroke-linejoin="round" stroke-linecap="butt"/>
<text x="278.17" y="1569.20" font-size="14.3" font-weight="bold" fill="#1c1c1c">Days to ATN recovery</text>
<text transform="translate(36.60,1344.00) rotate(-90)" x="-75.36" y="0" font-size="14.5" font-weight="bold" fill="#1c1c1c">Percent ATN recovery</text>
<line x1="454.60" y1="1363.05" x2="473.10" y2="1363.05" stroke="#88898e" stroke-width="2.6"/>
<text x="483.96" y="1367.70" font-size="14.2" font-weight="normal" fill="#2a2a2a">ESS</text>
<line x1="454.60" y1="1403.90" x2="461.20" y2="1403.90" stroke="#161616" stroke-width="2.7"/>
<line x1="466.40" y1="1403.90" x2="473.10" y2="1403.90" stroke="#161616" stroke-width="2.7"/>
<text x="483.96" y="1409.20" font-size="14.2" font-weight="normal" fill="#2a2a2a">Euthyroidism</text>
<text x="-0.63" y="1581.20" font-size="9.7" font-weight="bold" fill="#1c1c1c">No. of patients</text>
<text x="29.21" y="1608.70" font-size="9.2" font-weight="normal" fill="#2a2a2a">ESS</text>
<text x="-0.74" y="1644.80" font-size="9.2" font-weight="normal" fill="#2a2a2a">Euthyroidism</text>
<text x="69.69" y="1608.20" font-size="9.7" font-weight="normal" fill="#2a2a2a">36</text>
<text x="208.04" y="1608.20" font-size="9.7" font-weight="normal" fill="#2a2a2a">36</text>
<text x="365.20" y="1608.20" font-size="9.7" font-weight="normal" fill="#2a2a2a">10</text>
<text x="657.78" y="1608.20" font-size="9.7" font-weight="normal" fill="#2a2a2a">4</text>
<text x="69.67" y="1644.80" font-size="9.7" font-weight="normal" fill="#2a2a2a">19</text>
<text x="207.87" y="1644.80" font-size="9.7" font-weight="normal" fill="#2a2a2a">19</text>
<text x="372.71" y="1644.80" font-size="9.7" font-weight="normal" fill="#2a2a2a">9</text>
<text x="385.31" y="1644.80" font-size="9.7" font-weight="normal" fill="#2a2a2a">0</text>
</svg>
</body></html>
